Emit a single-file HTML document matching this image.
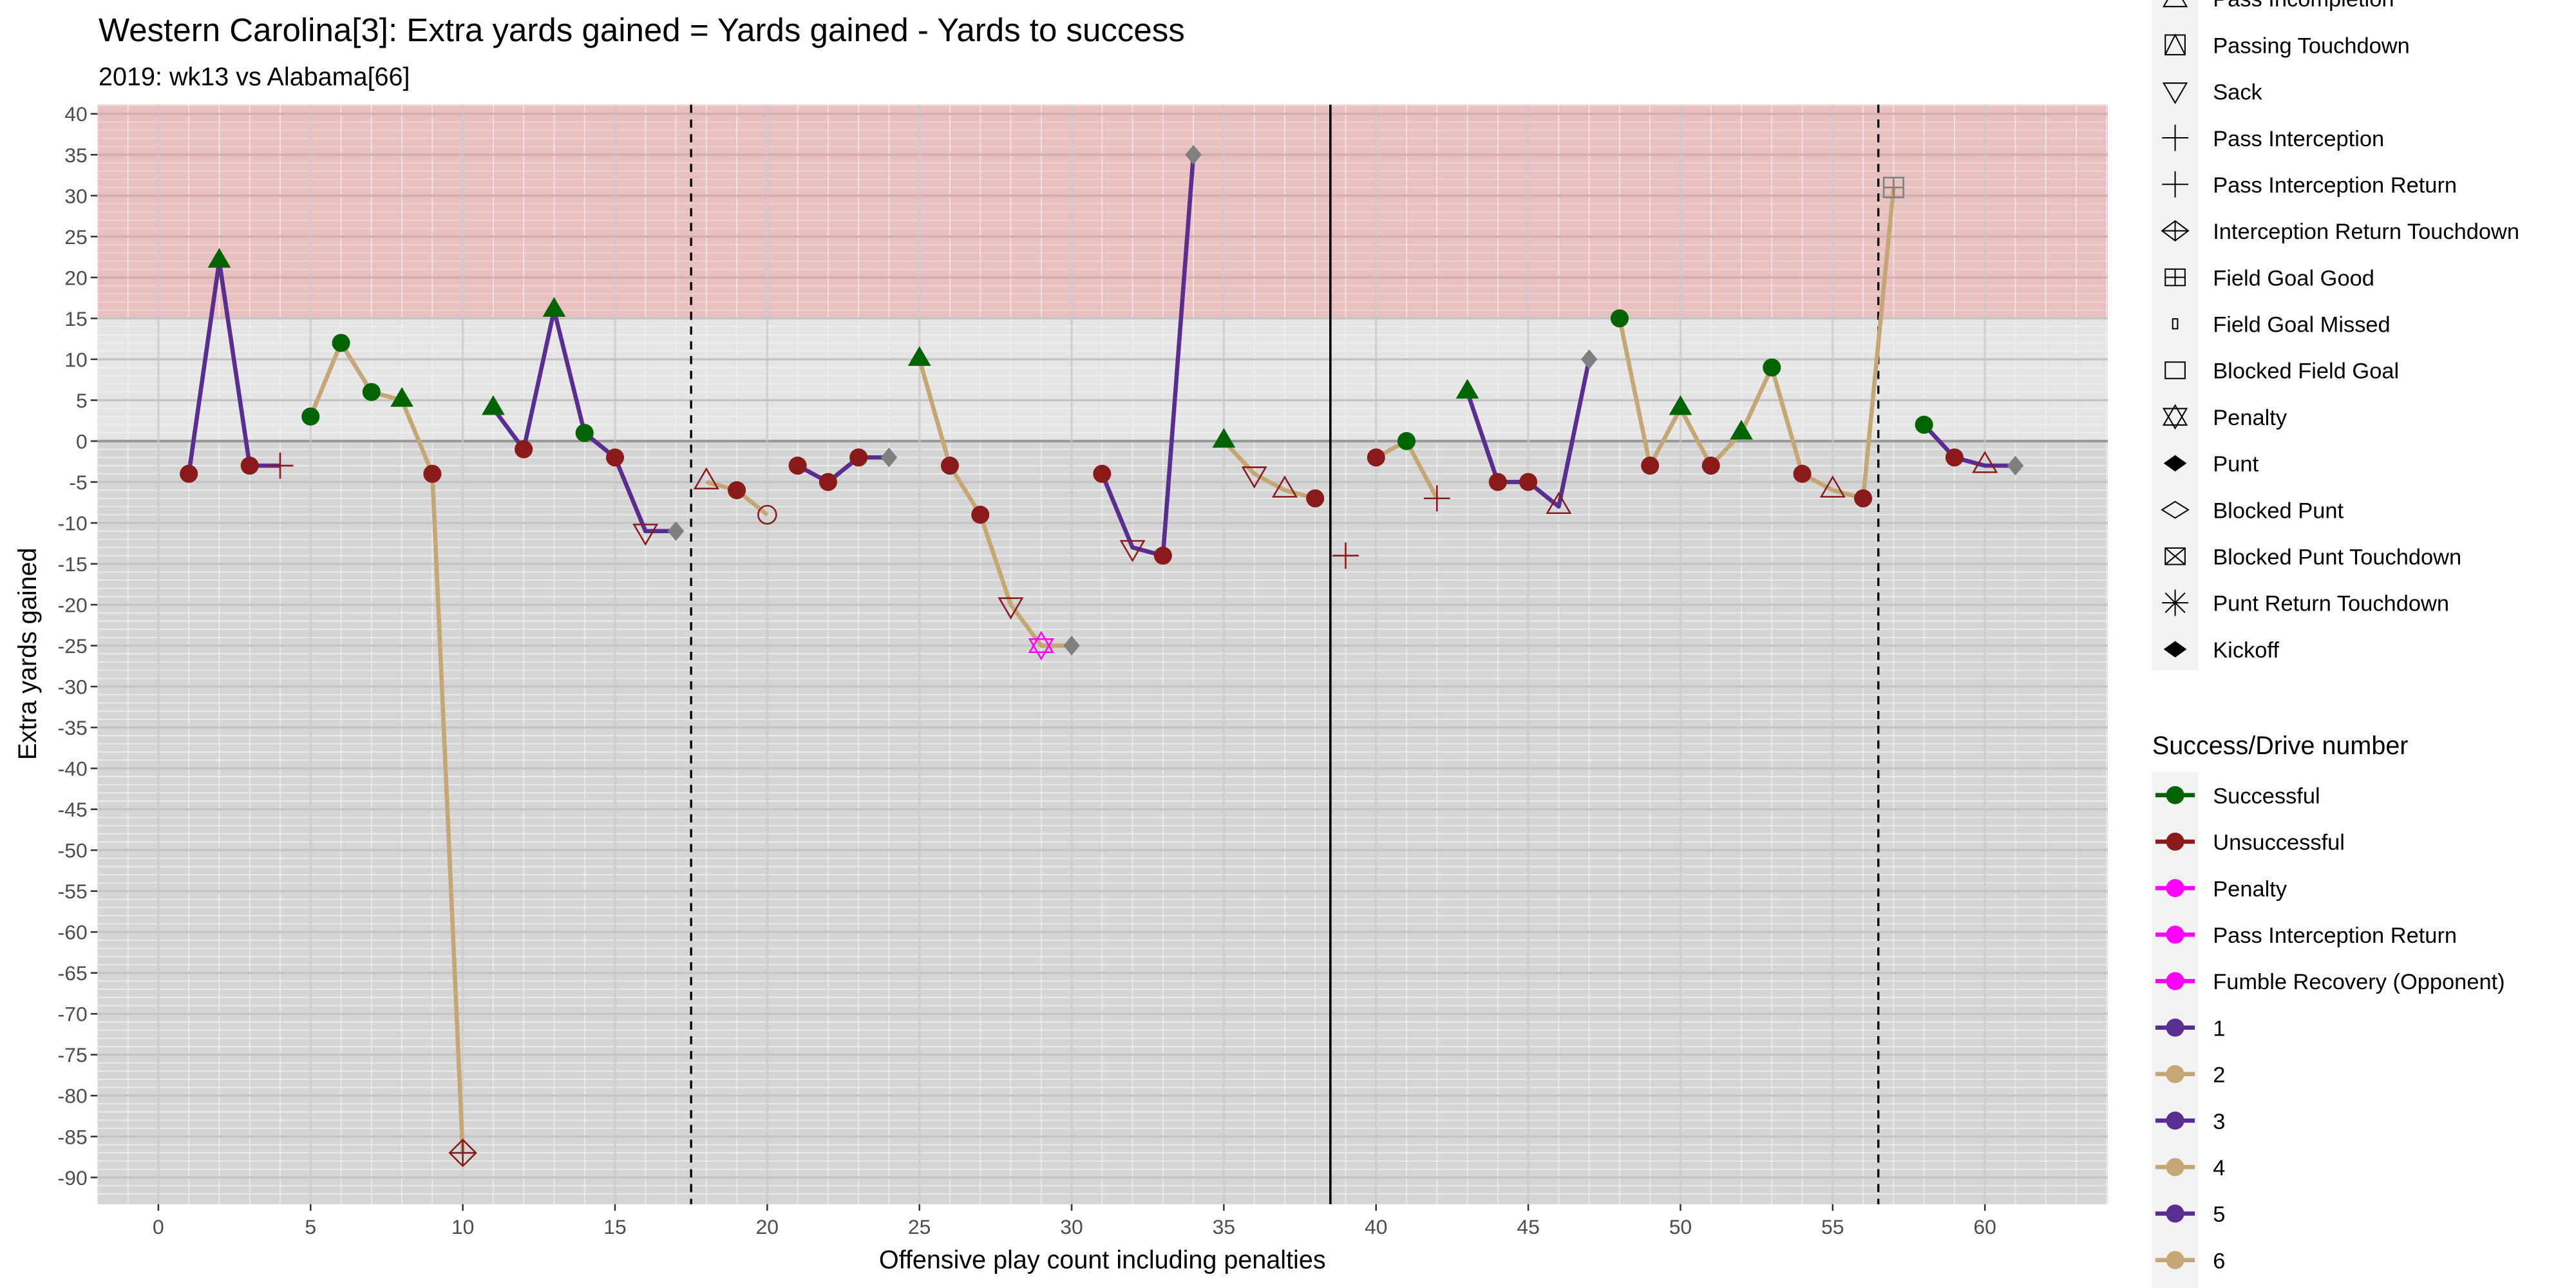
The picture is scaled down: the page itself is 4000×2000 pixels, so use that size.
<!DOCTYPE html>
<html><head><meta charset="utf-8"><style>
html,body{margin:0;padding:0;background:#fff}
svg{display:block}
text{font-family:"Liberation Sans",Arial,sans-serif}
</style></head><body>
<svg id="chart" width="4000" height="2000" viewBox="0 0 1568 784" xmlns="http://www.w3.org/2000/svg">
<text x="60" y="25" font-size="20" fill="#000">Western Carolina[3]: Extra yards gained = Yards gained - Yards to success</text>
<text x="60" y="52" font-size="15.5" fill="#000">2019: wk13 vs Alabama[66]</text>
<g id="panel"></g>
<g id="axes"></g>
<g id="legend"></g>
<text x="671" y="772" font-size="15.5" text-anchor="middle">Offensive play count including penalties</text>
<text transform="translate(22,398) rotate(-90)" font-size="15.5" text-anchor="middle">Extra yards gained</text>
</svg>
<script>
// data
const plays = [1,2,3,4,5,6,7,8,9,10,11,12,13,14,15,16,17,18,19,20,21,22,23,24,25,26,27,28,29,30,31,32,33,34,35,36,37,38,39,40,41,42,43,44,45,46,47,48,49,50,51,52,53,54,55,56,57,58,59,60,61];
const extraYards = [-4,22,-3,-3,3,12,6,5,-4,-87,4,-1,16,1,-2,-11,-11,-5,-6,-9,-3,-5,-2,-2,10,-3,-9,-20,-25,-25,-4,-13,-14,35,0,-4,-6,-7,-14,-2,0,-7,6,-5,-5,-8,10,15,-3,4,-3,1,9,-4,-6,-7,31,2,-2,-3,-3];
const drives = [1,1,1,1,2,2,2,2,2,2,3,3,3,3,3,3,3,4,4,4,5,5,5,5,6,6,6,6,6,6,7,7,7,7,8,8,8,8,9,10,10,10,11,11,11,11,11,12,12,12,12,12,12,12,12,12,12,13,13,13,13];
const shapes = ['c','t','c','x','c','c','c','t','c','ird','t','c','t','c','c','s','d','ot','c','oc','c','c','c','d','t','c','c','s','p','d','c','s','c','d','t','s','ot','c','x','c','c','x','t','c','c','ot','d','c','c','t','c','t','c','c','ot','c','fg','c','c','ot','d'];
const yTicks = [40,35,30,25,20,15,10,5,0,-5,-10,-15,-20,-25,-30,-35,-40,-45,-50,-55,-60,-65,-70,-75,-80,-85,-90];
const xTicks = [0,5,10,15,20,25,30,35,40,45,50,55,60];
const dashedLines = [17.5,56.5];
const halfLine = [38.5];
const topLegend = ['Pass Incompletion','Passing Touchdown','Sack','Pass Interception','Pass Interception Return','Interception Return Touchdown','Field Goal Good','Field Goal Missed','Blocked Field Goal','Penalty','Punt','Blocked Punt','Blocked Punt Touchdown','Punt Return Touchdown','Kickoff'];
const succLegend = ['Successful','Unsuccessful','Penalty','Pass Interception Return','Fumble Recovery (Opponent)','1','2','3','4','5','6'];

const NS='http://www.w3.org/2000/svg';
const X0=59.2,X1=1283,Y0=63.7,Y1=733;
const xs=v=>96.4+18.53*v;
const ys=v=>268.5-4.98*v;
function mk(tag,attrs,parent){const e=document.createElementNS(NS,tag);for(const k in attrs)e.setAttribute(k,attrs[k]);parent.appendChild(e);return e;}
const panel=document.getElementById('panel'),axes=document.getElementById('axes'),leg=document.getElementById('legend');

let r=mk('rect',{x:X0,y:Y0,width:X1-X0,height:ys(15)-Y0,fill:'#e8c0c0'},panel);


r=mk('rect',{x:X0,y:ys(15),width:X1-X0,height:ys(0)-ys(15),fill:'#e5e5e5'},panel);


r=mk('rect',{x:X0,y:ys(0),width:X1-X0,height:Y1-ys(0),fill:'#d5d5d5'},panel);


for(let v=-92;v<=41;v++){const y=ys(v);if(y<Y0||y>Y1)continue;
 mk('line',{x1:X0,x2:X1,y1:y,y2:y,stroke:v>15?'#f5d5d5':'#f2f2f2','stroke-width':0.7,'stroke-opacity':0.8},panel);}
for(let v=-2;v<=64;v++){const x=xs(v);if(x<X0||x>X1)continue;
 mk('line',{x1:x,x2:x,y1:Y0,y2:Y1,stroke:'#f2f2f2','stroke-width':0.7,'stroke-opacity':0.7},panel);}
yTicks.forEach(v=>{const y=ys(v);mk('line',{x1:X0,x2:X1,y1:y,y2:y,stroke:v>15?'#d6acac':(v===0?'#9a9a9a':'#c4c4c4'),'stroke-width':v===0?1.6:1.3},panel);});
xTicks.forEach(v=>{const x=xs(v);mk('line',{x1:x,x2:x,y1:Y0,y2:Y1,stroke:'#c4c4c4','stroke-width':1.3,'stroke-opacity':0.7},panel);});
dashedLines.forEach(v=>{const l=mk('line',{x1:xs(v),x2:xs(v),y1:Y0,y2:Y1,stroke:'#000','stroke-width':1.3,'stroke-dasharray':'5,4'},panel);
 
 });
halfLine.forEach(v=>{const l=mk('line',{x1:xs(v),x2:xs(v),y1:Y0,y2:Y1,stroke:'#000','stroke-width':1.4},panel);
 
 });

const driveIds=[...new Set(drives)];
driveIds.forEach(d=>{const pts=[];plays.forEach((p,i)=>{if(drives[i]===d)pts.push(xs(p)+','+ys(extraYards[i]));});
 if(pts.length<2)return;
 const pl=mk('polyline',{points:pts.join(' '),fill:'none',stroke:d%2?'#5a2d91':'#c4a774','stroke-width':2.6,'stroke-linejoin':'round'},panel);
 
 });

const GREEN='#006400',RED='#8b1a1a',GRAY='#7f7f7f',MAG='#ff00ff';
plays.forEach((p,i)=>{const x=xs(p),y=ys(extraYards[i]),sh=shapes[i],v=extraYards[i];
 const g=mk('g',{},panel);
 
 
 const col=v>=0?GREEN:RED;
 if(sh==='c'){mk('circle',{cx:x,cy:y,r:5.5,fill:col},g);}
 else if(sh==='t'){mk('polygon',{points:`${x},${y-8} ${x-7},${y+4} ${x+7},${y+4}`,fill:GREEN},g);}
 else if(sh==='ot'){mk('polygon',{points:`${x},${y-8} ${x-7},${y+4} ${x+7},${y+4}`,fill:'none',stroke:RED,'stroke-width':1},g);}
 else if(sh==='s'){mk('polygon',{points:`${x},${y+8} ${x-7},${y-4} ${x+7},${y-4}`,fill:'none',stroke:RED,'stroke-width':1},g);}
 else if(sh==='oc'){mk('circle',{cx:x,cy:y,r:5.5,fill:'none',stroke:RED,'stroke-width':1},g);}
 else if(sh==='x'){mk('path',{d:`M${x-8},${y}H${x+8}M${x},${y-8}V${y+8}`,stroke:RED,'stroke-width':1,fill:'none'},g);}
 else if(sh==='d'){mk('polygon',{points:`${x},${y-6} ${x+5},${y} ${x},${y+6} ${x-5},${y}`,fill:GRAY},g);}
 else if(sh==='ird'){mk('path',{d:`M${x},${y-8}L${x+8},${y}L${x},${y+8}L${x-8},${y}ZM${x-8},${y}H${x+8}M${x},${y-8}V${y+8}`,stroke:RED,'stroke-width':1,fill:'none'},g);}
 else if(sh==='fg'){mk('path',{d:`M${x-6},${y-6}h12v12h-12ZM${x-6},${y}h12M${x},${y-6}v12`,stroke:GRAY,'stroke-width':1,fill:'none'},g);}
 else if(sh==='p'){mk('path',{d:`M${x},${y-8}L${x+7},${y+4}L${x-7},${y+4}ZM${x},${y+8}L${x+7},${y-4}L${x-7},${y-4}Z`,stroke:MAG,'stroke-width':1,fill:'none'},g);}
});

yTicks.forEach(v=>{const y=ys(v);mk('line',{x1:X0-4,x2:X0,y1:y,y2:y,stroke:'#333','stroke-width':1},axes);
 const t=mk('text',{x:X0-6,y:y+4.5,'font-size':12.5,fill:'#4d4d4d','text-anchor':'end'},axes);t.textContent=v;
 
 });
xTicks.forEach(v=>{const x=xs(v);mk('line',{x1:x,x2:x,y1:Y1,y2:Y1+4,stroke:'#333','stroke-width':1},axes);
 const t=mk('text',{x:x,y:Y1+18,'font-size':12.5,fill:'#4d4d4d','text-anchor':'middle'},axes);t.textContent=v;
 
 });

const LX=1324,TX=1347,STEP=28.3;
mk('rect',{x:1310,y:0,width:28,height:408,fill:'#f2f2f2'},leg);
const topShapes=['ot0','ptd','s0','x0','x0','ird0','fg0','fgm','bfg','p0','d0','bp','bpt','prt','d0'];
topLegend.forEach((name,i)=>{const y=-1+STEP*i,x=LX,sh=topShapes[i];
 const g=mk('g',{},leg);
 
 
 const st={stroke:'#000','stroke-width':0.8,fill:'none'};
 if(sh==='ot0')mk('polygon',Object.assign({points:`${x},${y-7} ${x-7},${y+5} ${x+7},${y+5}`},st),g);
 if(sh==='ptd')mk('path',Object.assign({d:`M${x-6},${y-6}h12v12h-12ZM${x-6},${y+6}L${x},${y-6}L${x+6},${y+6}`},st),g);
 if(sh==='s0')mk('polygon',Object.assign({points:`${x},${y+7} ${x-7},${y-5} ${x+7},${y-5}`},st),g);
 if(sh==='x0')mk('path',Object.assign({d:`M${x-8},${y}H${x+8}M${x},${y-8}V${y+8}`},st),g);
 if(sh==='ird0')mk('path',Object.assign({d:`M${x},${y-6}L${x+8},${y}L${x},${y+6}L${x-8},${y}ZM${x-8},${y}H${x+8}M${x},${y-6}V${y+6}`},st),g);
 if(sh==='fg0')mk('path',Object.assign({d:`M${x-6},${y-5}h12v10h-12ZM${x-6},${y}h12M${x},${y-5}v10`},st),g);
 if(sh==='fgm')mk('rect',Object.assign({x:x-1.5,y:y-3,width:3,height:6},st),g);
 if(sh==='bfg')mk('rect',Object.assign({x:x-6,y:y-5,width:12,height:10},st),g);
 if(sh==='p0')mk('path',Object.assign({d:`M${x},${y-7}L${x+7},${y+5}L${x-7},${y+5}ZM${x},${y+7}L${x+7},${y-5}L${x-7},${y-5}Z`},st),g);
 if(sh==='d0')mk('polygon',{points:`${x},${y-5} ${x+7},${y} ${x},${y+5} ${x-7},${y}`,fill:'#000'},g);
 if(sh==='bp')mk('polygon',Object.assign({points:`${x},${y-5} ${x+8},${y} ${x},${y+5} ${x-8},${y}`},st),g);
 if(sh==='bpt')mk('path',Object.assign({d:`M${x-6},${y-5}h12v10h-12ZM${x-6},${y-5}L${x+6},${y+5}M${x+6},${y-5}L${x-6},${y+5}`},st),g);
 if(sh==='prt')mk('path',Object.assign({d:`M${x-8},${y}H${x+8}M${x},${y-8}V${y+8}M${x-6},${y-6}L${x+6},${y+6}M${x+6},${y-6}L${x-6},${y+6}`},st),g);
 const t=mk('text',{x:TX,y:y+5,'font-size':13.5},g);t.textContent=name;});

const lt=mk('text',{x:1310,y:459,'font-size':15.5},leg);lt.textContent='Success/Drive number';


mk('rect',{x:1310,y:470,width:28,height:314,fill:'#f2f2f2'},leg);
const succCols=[GREEN,RED,MAG,MAG,MAG,'#5a2d91','#c4a774','#5a2d91','#c4a774','#5a2d91','#c4a774'];
succLegend.forEach((name,i)=>{const y=484+STEP*i;
 const g=mk('g',{},leg);
 
 
 mk('line',{x1:1312,x2:1336,y1:y,y2:y,stroke:succCols[i],'stroke-width':2.6},g);
 mk('circle',{cx:LX,cy:y,r:5.5,fill:succCols[i]},g);
 const t=mk('text',{x:TX,y:y+5,'font-size':13.5},g);t.textContent=name;});
</script>
</body></html>
